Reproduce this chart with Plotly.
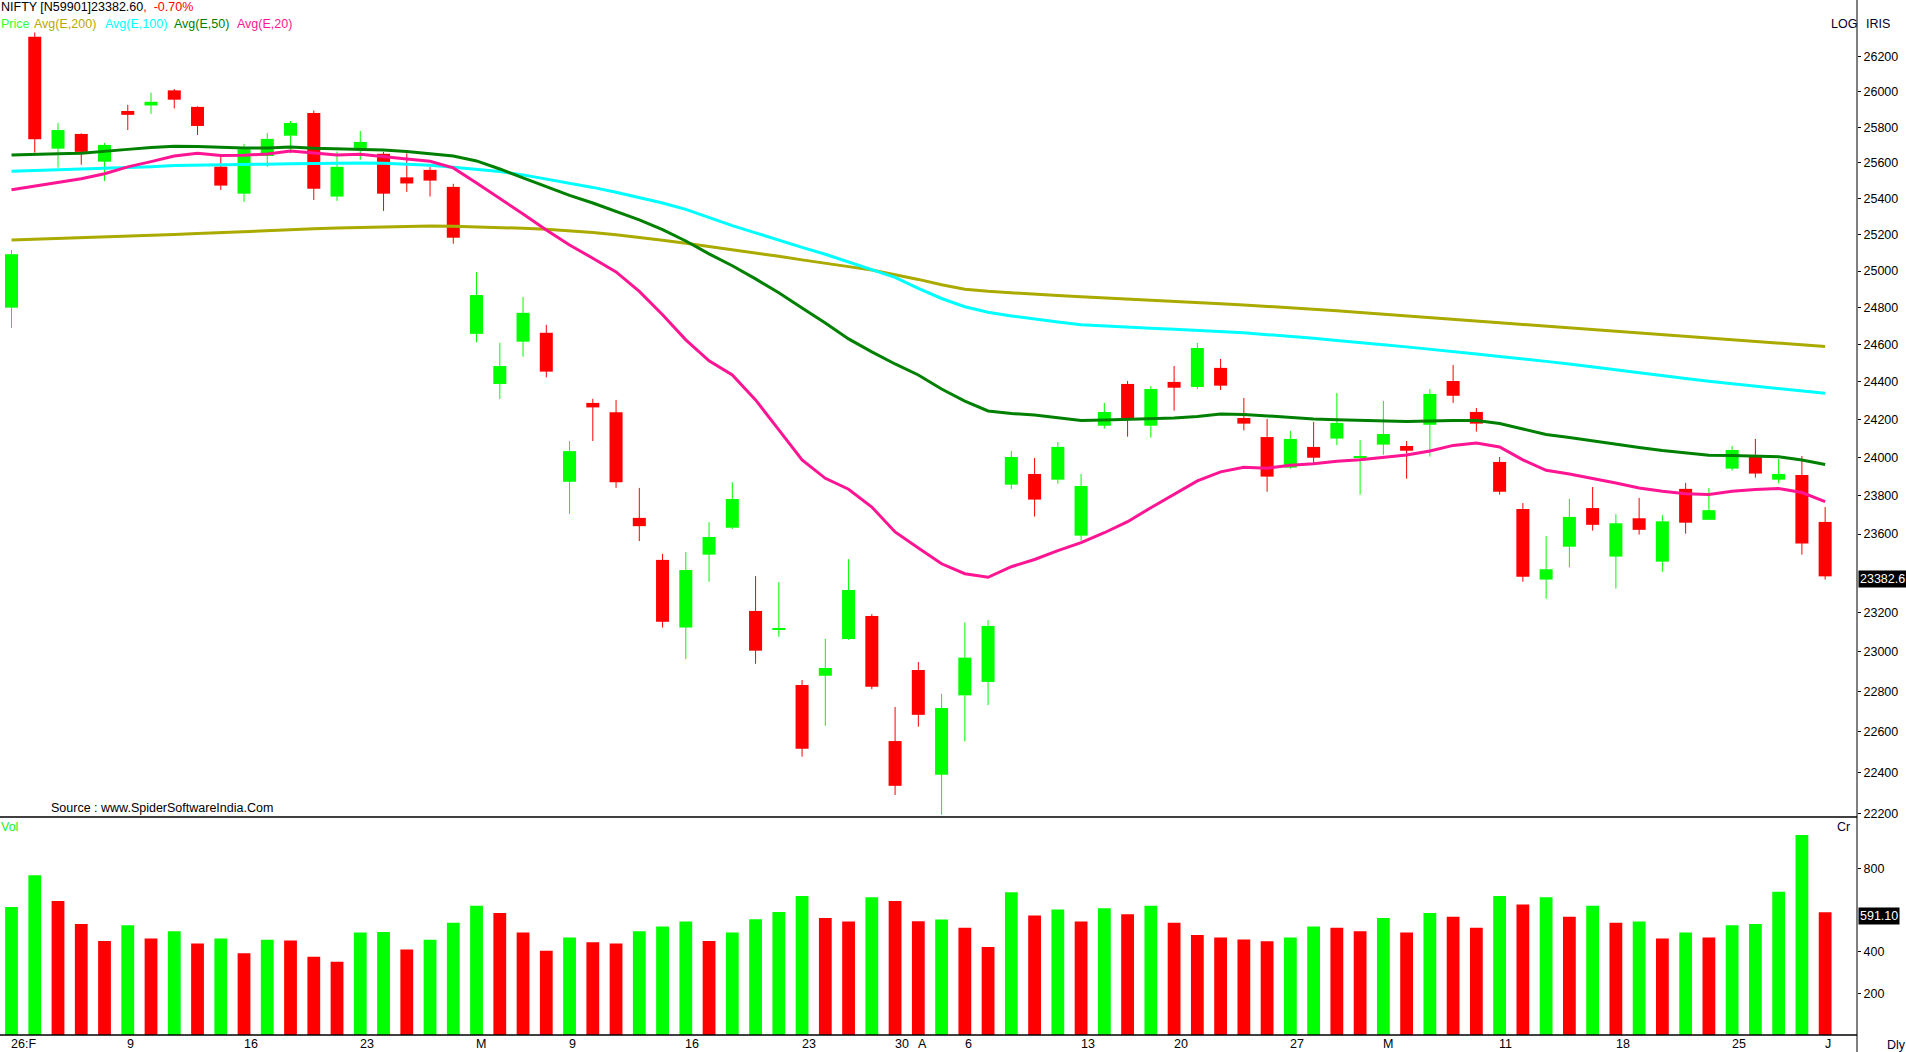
import plotly.graph_objects as go

# ---------------- data ----------------
idx = list(range(79))
open_ = [24800, 26316, 25679, 25762, 25606, 25892, 25923, 26009, 25915, 25578,
         25427, 25638, 25752, 25881, 25411, 25683, 25650, 25518, 25560, 25465,
         24658, 24389, 24616, 24664, 23872, 24288, 24239, 23684, 23467, 23122,
         23494, 23633, 23206, 23113, 22833, 22879, 23064, 23180, 22554, 22908,
         22388, 22781, 22848, 23857, 23913, 23883, 23592, 24167, 24389, 24167,
         24400, 24373, 24475, 24208, 24107, 23946, 24055, 24099, 24000, 24067,
         24060, 24172, 24405, 24240, 23976, 23730, 23366, 23535, 23735, 23484,
         23682, 23458, 23835, 23674, 23941, 24007, 23883, 23908, 23663]
high = [25115, 26341, 25824, 25765, 25711, 25927, 25996, 26017, 25918, 25637,
        25706, 25767, 25835, 25894, 25663, 25779, 25661, 25653, 25578, 25482,
        24994, 24610, 24858, 24707, 24086, 24310, 24304, 23840, 23498, 23507,
        23662, 23870, 23384, 23354, 22858, 23064, 23471, 23190, 22723, 22948,
        22788, 23148, 23160, 24034, 23997, 24081, 23913, 24288, 24405, 24378,
        24485, 24609, 24523, 24314, 24203, 24140, 24187, 24341, 24092, 24298,
        24086, 24362, 24491, 24261, 24002, 23761, 23590, 23782, 23845, 23703,
        23788, 23698, 23866, 23840, 24060, 24097, 23992, 24007, 23740]
low = [24690, 25657, 25573, 25589, 25498, 25784, 25875, 25906, 25756, 25448,
       25381, 25577, 25653, 25392, 25387, 25616, 25331, 25437, 25411, 25150,
       24612, 24309, 24535, 24424, 23705, 24086, 23840, 23564, 23122, 22963,
       23355, 23626, 22939, 23075, 22477, 22630, 23060, 22812, 22289, 22625,
       22193, 22552, 22733, 23835, 23691, 23862, 23566, 24151, 24109, 24104,
       24247, 24362, 24357, 24142, 23820, 23940, 23967, 24065, 23805, 24013,
       23888, 24004, 24288, 24136, 23805, 23355, 23268, 23430, 23618, 23320,
       23597, 23406, 23602, 23674, 23930, 23894, 23864, 23494, 23366]
close = [25092, 25732, 25784, 25661, 25700, 25870, 25944, 25956, 25807, 25472,
         25676, 25734, 25824, 25454, 25577, 25717, 25427, 25484, 25500, 25183,
         24869, 24485, 24772, 24455, 24033, 24264, 23869, 23641, 23151, 23415,
         23585, 23782, 23005, 23119, 22516, 22918, 23313, 22824, 22334, 22684,
         22718, 22970, 23130, 24002, 23779, 24055, 23850, 24240, 24203, 24362,
         24369, 24582, 24380, 24178, 23899, 24097, 23998, 24182, 24003, 24123,
         24035, 24336, 24326, 24178, 23820, 23381, 23419, 23689, 23648, 23656,
         23622, 23666, 23659, 23724, 24039, 23915, 23913, 23551, 23382.60]

ema200 = [25170, 25174, 25178, 25182, 25186, 25190, 25195, 25201, 25206, 25212,
          25217, 25222, 25227, 25232, 25236, 25240, 25244, 25247, 25248, 25246,
          25243, 25240, 25235, 25229, 25222, 25212, 25199, 25185, 25169, 25152,
          25135, 25118, 25100, 25081, 25061, 25041, 25024, 25006, 24982, 24954,
          24925, 24900, 24889, 24880, 24873, 24866, 24860, 24853, 24847, 24840,
          24834, 24828, 24821, 24815, 24808, 24801, 24792, 24783, 24774, 24764,
          24755, 24746, 24737, 24728, 24718, 24709, 24700, 24691, 24682, 24673,
          24664, 24655, 24645, 24636, 24627, 24618, 24609, 24600, 24590]
ema100 = [25552, 25556, 25560, 25563, 25566, 25572, 25578, 25584, 25587, 25589,
          25590, 25592, 25594, 25596, 25598, 25599, 25597, 25592, 25586, 25575,
          25564, 25551, 25532, 25510, 25485, 25462, 25435, 25405, 25375, 25340,
          25295, 25250, 25210, 25168, 25130, 25092, 25050, 25010, 24965, 24905,
          24850, 24805, 24775, 24755, 24737, 24722, 24708, 24700, 24694, 24688,
          24683, 24677, 24672, 24664, 24654, 24645, 24634, 24622, 24612, 24600,
          24588, 24576, 24563, 24550, 24536, 24524, 24510, 24496, 24480, 24462,
          24446, 24432, 24418, 24403, 24390, 24377, 24365, 24352, 24339]
ema50 = [25644, 25649, 25651, 25653, 25662, 25675, 25686, 25693, 25691, 25686,
         25683, 25683, 25689, 25681, 25679, 25677, 25672, 25663, 25652, 25638,
         25610, 25565, 25515, 25465, 25418, 25375, 25330, 25282, 25228, 25165,
         25094, 25029, 24957, 24881, 24798, 24717, 24631, 24561, 24496, 24437,
         24362, 24298, 24245, 24232, 24224, 24211, 24195, 24197, 24200, 24205,
         24208, 24216, 24229, 24227, 24219, 24211, 24203, 24199, 24196, 24192,
         24189, 24192, 24195, 24194, 24179, 24150, 24121, 24105, 24086, 24070,
         24052, 24036, 24022, 24011, 24010, 24006, 24003, 23986, 23963]
ema20 = [25449, 25470, 25488, 25510, 25538, 25577, 25606, 25638, 25653, 25640,
         25642, 25649, 25666, 25653, 25644, 25647, 25632, 25621, 25608, 25571,
         25487, 25402, 25314, 25225, 25143, 25070, 24995, 24889, 24762, 24626,
         24513, 24437, 24304, 24145, 23986, 23890, 23833, 23740, 23611, 23528,
         23447, 23396, 23378, 23432, 23469, 23515, 23556, 23607, 23664, 23737,
         23809, 23877, 23924, 23948, 23943, 23958, 23966, 23979, 23988, 23999,
         24013, 24034, 24063, 24075, 24055, 23987, 23932, 23913, 23890, 23866,
         23840, 23822, 23809, 23806, 23822, 23832, 23837, 23816, 23768]

volume = [617, 769, 646, 535, 453, 529, 465, 500, 441, 465,
          394, 459, 455, 377, 353, 494, 496, 412, 459, 541,
          623, 588, 494, 406, 470, 447, 441, 500, 523, 547,
          453, 494, 558, 593, 670, 564, 547, 664, 646, 548,
          556, 517, 424, 687, 576, 605, 547, 611, 582, 623,
          541, 482, 470, 460, 452, 470, 523, 517, 500, 564,
          494, 588, 570, 517, 670, 629, 664, 570, 623, 541,
          547, 465, 494, 470, 529, 535, 690, 963, 591.10]

xlabel_idx = [0, 5, 10, 15, 20, 24, 29, 34, 38, 39, 41, 46, 50, 55, 59, 64, 69, 74, 78]
xlabel_txt = ["26:F", "9", "16", "23", "M", "9", "16", "23", "30", "A",
              "6", "13", "20", "27", "M", "11", "18", "25", "J"]
price_ticks = [22200, 22400, 22600, 22800, 23000, 23200, 23600, 23800, 24000,
               24200, 24400, 24600, 24800, 25000, 25200, 25400, 25600, 25800,
               26000, 26200]
vol_ticks = [200, 400, 800]

# ---------------- styling ----------------
W, H = 1906, 1052
PW, PH = 1857, 1035          # plot area (pixels)
SPLIT = 817                  # pixel y of price/volume separator
GREEN, RED = "#00FF00", "#FF0000"
FONT = "Liberation Sans"
FS = 12.5


def pxx(x):
    return x / PW


def pyy(y):
    return (PH - y) / PH


split_paper = pyy(SPLIT)

fig = go.Figure()

up = [c >= o for o, c in zip(open_, close)]

# wicks
for flag, col in ((True, GREEN), (False, RED)):
    wx, wy = [], []
    for i in idx:
        if up[i] == flag:
            wx += [i, i, None]
            wy += [low[i], high[i], None]
    fig.add_trace(go.Scatter(x=wx, y=wy, mode="lines", line=dict(color=col, width=1),
                             xaxis="x", yaxis="y", hoverinfo="skip", showlegend=False))

# bodies
for flag, col in ((True, GREEN), (False, RED)):
    bx = [i for i in idx if up[i] == flag]
    fig.add_trace(go.Bar(
        x=bx,
        base=[min(open_[i], close[i]) for i in bx],
        y=[max(abs(close[i] - open_[i]), 1.5) for i in bx],
        width=0.56, marker=dict(color=col, line=dict(width=0)),
        xaxis="x", yaxis="y", showlegend=False))

# moving averages
for arr, col in ((ema200, "#AAAA00"), (ema100, "#00FFFF"), (ema50, "#008000"), (ema20, "#FF1493")):
    fig.add_trace(go.Scatter(x=idx, y=arr, mode="lines", line=dict(color=col, width=3),
                             xaxis="x", yaxis="y", showlegend=False))

# volume (coloured by change versus previous bar's volume)
vcol = [GREEN] + [GREEN if volume[i] >= volume[i - 1] else RED for i in idx[1:]]
fig.add_trace(go.Bar(x=idx, y=volume, width=0.55, marker=dict(color=vcol, line=dict(width=0)),
                     xaxis="x2", yaxis="y2", showlegend=False))

xr = [-0.495, 79.37]
fig.update_layout(
    width=W, height=H, autosize=False,
    margin=dict(l=0, r=W - PW, t=0, b=H - PH),
    paper_bgcolor="white", plot_bgcolor="white",
    barmode="overlay", showlegend=False,
    font=dict(family=FONT, size=FS, color="black"),
    xaxis=dict(domain=[0, 1], range=xr, anchor="y", showticklabels=False, showgrid=False,
               zeroline=False, showline=False, ticks=""),
    xaxis2=dict(domain=[0, 1], range=xr, anchor="y2", showticklabels=False, showgrid=False,
                zeroline=False, showline=False, ticks="", matches="x"),
    yaxis=dict(domain=[split_paper, 1], type="log", range=[4.34600, 4.42372], side="right",
               tickvals=price_ticks, ticktext=[str(v) for v in price_ticks],
               ticks="outside", ticklen=3, tickcolor="black", showgrid=False, zeroline=False,
               showline=False, tickfont=dict(family=FONT, size=FS, color="black")),
    yaxis2=dict(domain=[0, split_paper], range=[0, 1050], side="right",
                tickvals=vol_ticks, ticktext=[str(v) for v in vol_ticks],
                ticks="outside", ticklen=3, tickcolor="black", showgrid=False, zeroline=False,
                showline=False, tickfont=dict(family=FONT, size=FS, color="black")),
)

shapes = [
    dict(type="line", xref="paper", yref="paper", x0=1, x1=1, y0=pyy(H), y1=1,
         line=dict(color="black", width=1)),
    dict(type="line", xref="paper", yref="paper", x0=0, x1=1, y0=split_paper, y1=split_paper,
         line=dict(color="black", width=1.5)),
    dict(type="line", xref="paper", yref="paper", x0=0, x1=1, y0=0, y1=0,
         line=dict(color="black", width=1.5)),
]
fig.update_layout(shapes=shapes)

ann = []


def text(x, y, s, color="black", anchor="left", **kw):
    ann.append(dict(xref="paper", yref="paper", x=pxx(x), y=pyy(y), text=s, showarrow=False,
                    xanchor=anchor, yanchor="middle", font=dict(family=FONT, size=FS, color=color),
                    **kw))


text(-1, 7, 'NIFTY [N59901]23382.60<span style="color:#FF0000">,  -0.70%</span>', "black")
text(-1, 24, "Price", "#33FF33")
text(32, 24, "Avg(E,200)", "#B8A800")
text(103, 24, "Avg(E,100)", "#00FFFF")
text(172, 24, "Avg(E,50)", "#008000")
text(235, 24, "Avg(E,20)", "#FF1493")
text(1829, 24, "LOG", "#000033")
text(1864, 24, "IRIS", "#000033")
text(49, 808, "Source : www.SpiderSoftwareIndia.Com", "black")
text(-1, 827, "Vol", "#22EE22")
text(1835, 827, "Cr", "#000033")
text(1885, 1045, "Dly", "#000033")
text(1858, 579, "23382.6", "white", bgcolor="black", borderpad=1)
text(1858, 915.5, "591.10", "white", bgcolor="black", borderpad=1)

for i, s in zip(xlabel_idx, xlabel_txt):
    ann.append(dict(xref="x", yref="paper", x=i - 0.1, y=pyy(1044), text=s, showarrow=False,
                    xanchor="left", yanchor="middle", font=dict(family=FONT, size=FS, color="black")))

fig.update_layout(annotations=ann)

fig.write_html("out.html")
